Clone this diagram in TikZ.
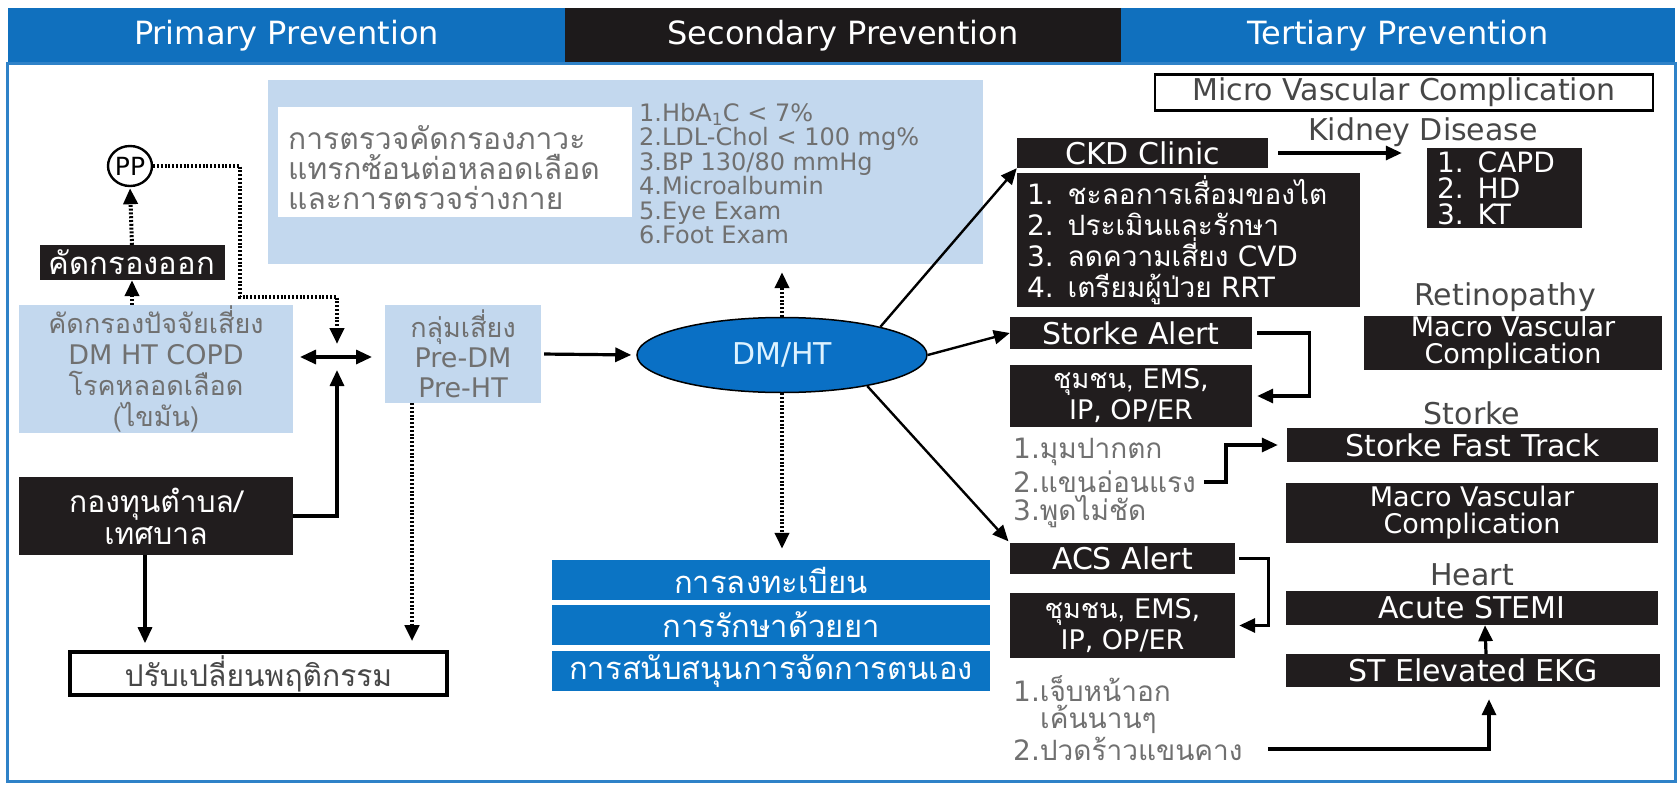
\documentclass[tikz,border=0pt]{standalone}
\usepackage{fontspec}
\setmainfont[Script=Thai]{Loma}
\newfontfamily\lat{DejaVu Sans}
\usetikzlibrary{arrows.meta,shapes.geometric}
\definecolor{hdrblue}{HTML}{1070BE}
\definecolor{hdrdark}{HTML}{1D1A1B}
\definecolor{frameblue}{HTML}{2F82C8}
\definecolor{paleblue}{HTML}{C3D8EE}
\definecolor{boxblack}{HTML}{211D1E}
\definecolor{stackblue}{HTML}{0B74C4}
\definecolor{dmblue}{HTML}{0A70C5}
\definecolor{dmtext}{HTML}{DDF2FF}
\definecolor{greytext}{HTML}{707070}
\definecolor{labelgrey}{HTML}{474747}
\begin{document}
\begin{tikzpicture}[x=1pt,y=-1pt,
    hdr/.style={text=white,inner sep=0pt,font=\lat\fontsize{32}{34}\selectfont},
    blk/.style={fill=boxblack,text=white,inner sep=0pt,align=center,font=\fontsize{27}{31}\selectfont},
    blat/.style={blk,font=\lat\fontsize{30}{24}\selectfont},
    pale/.style={fill=paleblue,text=greytext,inner sep=0pt,align=center,font=\fontsize{27}{31}\selectfont},
    note/.style={text=greytext,inner sep=0pt,align=left,font=\fontsize{28}{30}\selectfont},
    tag/.style={text=labelgrey,inner sep=0pt,font=\lat\fontsize{30}{30}\selectfont},
    stk/.style={fill=stackblue,text=white,inner sep=0pt,minimum width=438,minimum height=40,font=\fontsize{31}{30}\selectfont},
    arr/.style={line width=3.2pt,-{Triangle[length=16pt,width=14pt]}},
    dotarr/.style={line width=4pt,dash pattern=on 2pt off 1.8pt,-{Triangle[length=16pt,width=14pt]}}]
  \useasboundingbox[fill=white] (0,0) rectangle (1680,784);

  \node[hdr,fill=hdrblue,minimum width=557,minimum height=55] (hprim) at (286.5,35.5) {Primary Prevention};
  \node[hdr,fill=hdrdark,minimum width=556,minimum height=55] (hsec) at (843,35.5) {Secondary Prevention};
  \node[hdr,fill=hdrblue,minimum width=554,minimum height=55] (hter) at (1398,35.5) {Tertiary Prevention};
  \draw[line width=3pt,frameblue] (7,64) rectangle (1675,781);

  \node[fill=paleblue,minimum width=715,minimum height=184] (scr) at (625.5,172) {};
  \node[fill=white,minimum width=354,minimum height=110] (scrw) at (455,162) {};
  \node[note,anchor=west,font=\fontsize{30}{30}\selectfont] (scrt) at (288,168) {การตรวจคัดกรองภาวะ\\แทรกซ้อนต่อหลอดเลือด\\และการตรวจร่างกาย};
  \node[note,anchor=north west,font=\lat\fontsize{24}{24.4}\selectfont] (goals) at (639,103) {1.HbA\textsubscript{1}C < 7\%\\2.LDL-Chol < 100 mg\%\\3.BP 130/80 mmHg\\4.Microalbumin\\5.Eye Exam\\6.Foot Exam};

  \node[draw,ellipse,line width=2.4pt,inner sep=0pt,minimum width=44,minimum height=40,font=\lat\fontsize{25}{28}\selectfont] (pp) at (130,166) {PP};
  \node[blk,minimum width=185,minimum height=35,font=\fontsize{31}{28}\selectfont] (out) at (132,262.5) {คัดกรองออก};
  \node[pale,minimum width=274,minimum height=128] (risk) at (156,369) {คัดกรองปัจจัยเสี่ยง\\{\lat DM HT COPD}\\โรคหลอดเลือด\\(ไขมัน)};
  \node[blk,minimum width=274,minimum height=78,font=\fontsize{30}{32}\selectfont] (fund) at (156,516) {กองทุนตำบล/\\เทศบาล};
  \node[draw,line width=3.5pt,text=labelgrey,minimum width=377,minimum height=43,font=\fontsize{30}{28}\selectfont] (behav) at (258.5,673.5) {ปรับเปลี่ยนพฤติกรรม};
  \node[pale,minimum width=156,minimum height=98,font=\fontsize{27}{30}\selectfont] (grp) at (463,354) {กลุ่มเสี่ยง\\{\lat Pre-DM}\\{\lat Pre-HT}};
  \node[draw,ellipse,line width=1.5pt,fill=dmblue,text=dmtext,minimum width=290,minimum height=75,font=\lat\fontsize{30}{28}\selectfont] (dm) at (782,355) {DM/HT};
  \foreach \yy/\t [count=\i] in {580/การลงทะเบียน,625/การรักษาด้วยยา,671/การสนับสนุนการจัดการตนเอง}
    \node[stk] (stk\i) at (771,\yy) {\t};

  \coordinate (jw) at (300,357);
  \coordinate (je) at (372,357);
  \coordinate (jn) at (337,344);
  \coordinate (js) at (337,370);
  \coordinate (dotturn) at (240,297);

  \node[draw,line width=2.5pt,text=labelgrey,minimum width=498,minimum height=31,font=\lat\fontsize{30}{28}\selectfont] (micro) at (1404,92.5) {Micro Vascular Complication};
  \node[tag] (kid) at (1423,132) {Kidney Disease};
  \node[blat,minimum width=251,minimum height=30] (ckd) at (1142.5,153) {CKD Clinic};
  \node[blk,align=left,text width=323,inner xsep=10,minimum height=134,font=\fontsize{28}{31}\selectfont] (ckdl) at (1188.5,240) {{\lat 1.} ชะลอการเสื่อมของไต\\{\lat 2.} ประเมินและรักษา\\{\lat 3.} ลดความเสี่ยง {\lat CVD}\\{\lat 4.} เตรียมผู้ป่วย {\lat RRT}};
  \node[blat,align=left,text width=135,inner xsep=10,minimum height=80,font=\lat\fontsize{28}{26}\selectfont] (rrt) at (1504.5,188) {1. CAPD\\2. HD\\3. KT};
  \node[tag] (reti) at (1505,297) {Retinopathy};
  \node[blat,minimum width=298,minimum height=54,font=\lat\fontsize{27}{27}\selectfont] (macro1) at (1513,342.5) {Macro Vascular\\Complication};
  \node[blat,minimum width=242,minimum height=32] (salert) at (1131,333) {Storke Alert};
  \node[blk,minimum width=242,minimum height=62] (ems1) at (1131,396) {ชุมชน, {\lat EMS,}\\{\lat IP, OP/ER}};
  \node[note,anchor=west] (s1) at (1013,452) {{\lat 1.}มุมปากตก};
  \node[note,anchor=west] (s2) at (1013,482) {{\lat 2.}แขนอ่อนแรง};
  \node[note,anchor=west] (s3) at (1013,512) {{\lat 3.}พูดไม่ชัด};
  \node[tag] (strk) at (1472,413) {Storke};
  \node[blat,minimum width=371,minimum height=34] (sft) at (1472.5,445) {Storke Fast Track};
  \node[blat,minimum width=372,minimum height=60,font=\lat\fontsize{27}{27}\selectfont] (macro2) at (1472,513) {Macro Vascular\\Complication};
  \node[blat,minimum width=225,minimum height=31] (acs) at (1122.5,558.5) {ACS Alert};
  \node[blk,minimum width=225,minimum height=65] (ems2) at (1122.5,625.5) {ชุมชน, {\lat EMS,}\\{\lat IP, OP/ER}};
  \node[note,anchor=west] (c1) at (1013,689) {{\lat 1.}เจ็บหน้าอก};
  \node[note,anchor=west] (c2) at (1040,719) {เค้นนานๆ};
  \node[note,anchor=west] (c3) at (1013,749) {{\lat 2.}ปวดร้าวแขนคาง};
  \node[tag] (heart) at (1472,575) {Heart};
  \node[blat,minimum width=372,minimum height=34] (stemi) at (1472,608) {Acute STEMI};
  \node[blat,minimum width=374,minimum height=33] (ekg) at (1473,670.5) {ST Elevated EKG};

  \draw[dotarr,shorten >=1pt] (out.north) -- (pp.south);
  \draw[dotarr] (out.south |- risk.north) -- (out.south);
  \draw[dotarr] (pp.east) -| (dotturn) -| (jn);
  \draw[line width=3.2pt,{Triangle[length=16pt,width=14pt]}-{Triangle[length=16pt,width=14pt]}] (jw) -- (je);
  \draw[arr] (fund.east) -| (js);
  \draw[arr,shorten >=7pt] ([xshift=-11]fund.south) -- ([xshift=-11]fund.south |- behav.north);
  \draw[dotarr,shorten >=9pt] ([xshift=-51]grp.south) -- ([xshift=-51]grp.south |- behav.north);
  \draw[arr,shorten <=3pt,shorten >=5pt] (grp.east) -- (dm.west);
  \draw[dotarr,shorten >=8pt] (dm.north) -- (dm.north |- scr.south);
  \draw[dotarr,shorten >=11pt] (dm.south) -- (dm.south |- stk1.north);
  \draw[arr,line width=2.4pt] (dm.16) -- (ckd.south west);
  \draw[arr,line width=2.4pt] (dm.east) -- (salert.west);
  \draw[arr,line width=2.4pt,shorten >=2pt] (dm.-20) -- (acs.north west);
  \draw[arr,shorten <=10pt,shorten >=25pt] (ckd.east) -- (ckd.east -| rrt.west);
  \draw[arr,shorten <=5pt,shorten >=5pt] (salert.east) -- ++(57,0) |- (ems1.east);
  \draw[arr,shorten <=8pt,shorten >=9pt] (s2.east) -- ++(30,0) |- (sft.west);
  \draw[arr,shorten <=4pt,shorten >=4pt] (acs.east) -- ++(33,0) |- (ems2.east);
  \draw[arr] ([xshift=13]ekg.north) -- ([xshift=13]stemi.south);
  \draw[arr,shorten <=25pt,shorten >=12pt] (c3.east) -| ([xshift=16]ekg.south);
\end{tikzpicture}
\end{document}
